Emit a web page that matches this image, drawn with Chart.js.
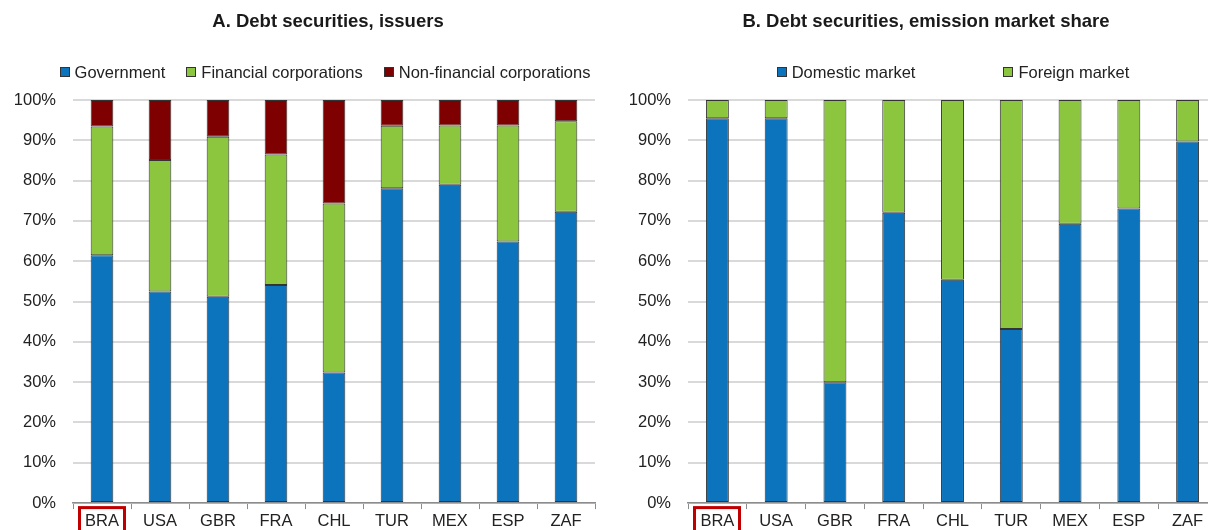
<!DOCTYPE html>
<html>
<head>
<meta charset="utf-8">
<script src="https://cdn.jsdelivr.net/npm/chart.js@4.4.1/dist/chart.umd.min.js"></script>
<style>
  html, body { margin: 0; padding: 0; background: #fff; overflow: hidden; width: 1208px; height: 530px; }
  .painel { position: absolute; top: 0; height: 530px; }
  #painelA { left: 0; width: 656px; }
  #painelB { left: 600px; width: 652px; }
</style>
</head>
<body>
<div class="painel" id="painelA"><canvas id="graficoA"></canvas></div>
<div class="painel" id="painelB"><canvas id="graficoB"></canvas></div>
<script>
/* Debt securities: issuers (A) and emission market share (B) */

const paises = ["BRA", "USA", "GBR", "FRA", "CHL", "TUR", "MEX", "ESP", "ZAF"];

// painel A - % por emissor
const governo = [61.5, 52.5, 51.2, 54.1, 32.4, 78.1, 79.0, 64.9, 72.3];
const financeiras = [31.9, 32.6, 39.7, 32.4, 41.9, 15.5, 14.7, 28.8, 22.4];
const naoFinanceiras = [6.6, 14.9, 9.1, 13.5, 25.7, 6.4, 6.3, 6.3, 5.3];

// painel B - % por mercado
const domestico = [95.5, 95.5, 30.0, 72.0, 55.4, 43.2, 69.3, 73.1, 89.7];
const estrangeiro = [4.5, 4.5, 70.0, 28.0, 44.6, 56.8, 30.7, 26.9, 10.3];

const ticksY = [0, 10, 20, 30, 40, 50, 60, 70, 80, 90, 100];

const AZUL = "#0B74BC";
const VERDE = "#8CC63F";
const VERMELHO = "#7F0000";
const FONTE = "'Liberation Sans Narrow', 'Liberation Sans', Arial, sans-serif";
const TAM = 16.5;

Chart.defaults.font.family = FONTE;
Chart.defaults.color = "#222";

// legenda desenhada a partir dos datasets (espaçamento diferente em cada painel)
const legendaManual = {
  id: "legendaManual",
  afterDraw(chart, args, opts) {
    const ctx = chart.ctx;
    const caixa = 10, folga = 5;
    ctx.save();
    ctx.font = `${opts.size}px ${FONTE}`;
    const itens = chart.data.datasets.map(ds => ({
      texto: ds.label,
      cor: ds.backgroundColor,
      w: caixa + folga + ctx.measureText(ds.label).width
    }));
    const total = itens.reduce((s, it) => s + it.w, 0) + opts.gap * (itens.length - 1);
    let x = opts.centro - total / 2;
    itens.forEach(it => {
      const y0 = Math.round(opts.y - caixa / 2);
      ctx.fillStyle = it.cor;
      ctx.fillRect(Math.round(x), y0, caixa, caixa);
      ctx.strokeStyle = "#333";
      ctx.lineWidth = 1;
      ctx.strokeRect(Math.round(x) + 0.5, y0 + 0.5, caixa - 1, caixa - 1);
      ctx.fillStyle = "#222";
      ctx.textBaseline = "middle";
      ctx.textAlign = "left";
      ctx.fillText(it.texto, x + caixa + folga, opts.y + 1);
      x += it.w + opts.gap;
    });
    ctx.restore();
  }
};

// moldura vermelha no rótulo do Brasil
const destaque = {
  id: "destaque",
  afterDraw(chart) {
    const x = chart.scales.x.getPixelForValue(0);
    const ctx = chart.ctx;
    ctx.save();
    ctx.strokeStyle = "#C00000";
    ctx.lineWidth = 3;
    ctx.strokeRect(Math.round(x) - 22.5, chart.chartArea.bottom + 4.5, 45, 30);
    ctx.restore();
  }
};

function criarGrafico(id, titulo, datasets, larguraEixo, margemDireita, legenda) {
  return new Chart(document.getElementById(id), {
    type: "bar",
    data: { labels: paises, datasets },
    plugins: [legendaManual, destaque],
    options: {
      responsive: true,
      maintainAspectRatio: false,
      animation: false,
      layout: { padding: 0 },
      datasets: {
        bar: { barPercentage: 0.39, categoryPercentage: 1, borderWidth: 1, borderColor: "#333", borderSkipped: false }
      },
      plugins: {
        legend: { display: false },
        tooltip: { enabled: false },
        title: {
          display: true,
          text: titulo,
          color: "#1a1a1a",
          font: { size: 18.5, weight: "bold" },
          padding: { top: 11, bottom: 66.8 }
        },
        legendaManual: legenda
      },
      scales: {
        x: {
          stacked: true,
          grid: { drawOnChartArea: false, drawTicks: true, tickLength: 6, color: "#8c8c8c", offset: true },
          border: { color: "#8c8c8c", width: 1.5 },
          ticks: { color: "#222", font: { size: TAM }, padding: 2, maxRotation: 0 },
          afterFit: s => { s.height = 26; }
        },
        y: {
          stacked: true,
          min: 0,
          max: 100,
          afterBuildTicks: s => { s.ticks = ticksY.map(v => ({ value: v })); },
          ticks: { callback: v => v + "%", color: "#222", font: { size: TAM }, padding: 17 },
          grid: { color: "#d9d9d9", lineWidth: 2, drawTicks: false },
          border: { display: false },
          afterFit: s => { s.width = larguraEixo; }
        },
        y2: {
          type: "linear",
          position: "right",
          display: true,
          grid: { display: false },
          ticks: { display: false },
          border: { display: false },
          afterFit: s => { s.width = margemDireita; }
        }
      }
    }
  });
}

criarGrafico("graficoA", "A. Debt securities, issuers", [
  { label: "Government", data: governo, backgroundColor: AZUL },
  { label: "Financial corporations", data: financeiras, backgroundColor: VERDE },
  { label: "Non-financial corporations", data: naoFinanceiras, backgroundColor: VERMELHO }
], 73, 61, { centro: 325, y: 72, gap: 21, size: TAM });

criarGrafico("graficoB", "B. Debt securities, emission market share", [
  { label: "Domestic market", data: domestico, backgroundColor: AZUL },
  { label: "Foreign market", data: estrangeiro, backgroundColor: VERDE }
], 88, 35, { centro: 353, y: 72, gap: 88, size: TAM });
</script>
</body>
</html>
